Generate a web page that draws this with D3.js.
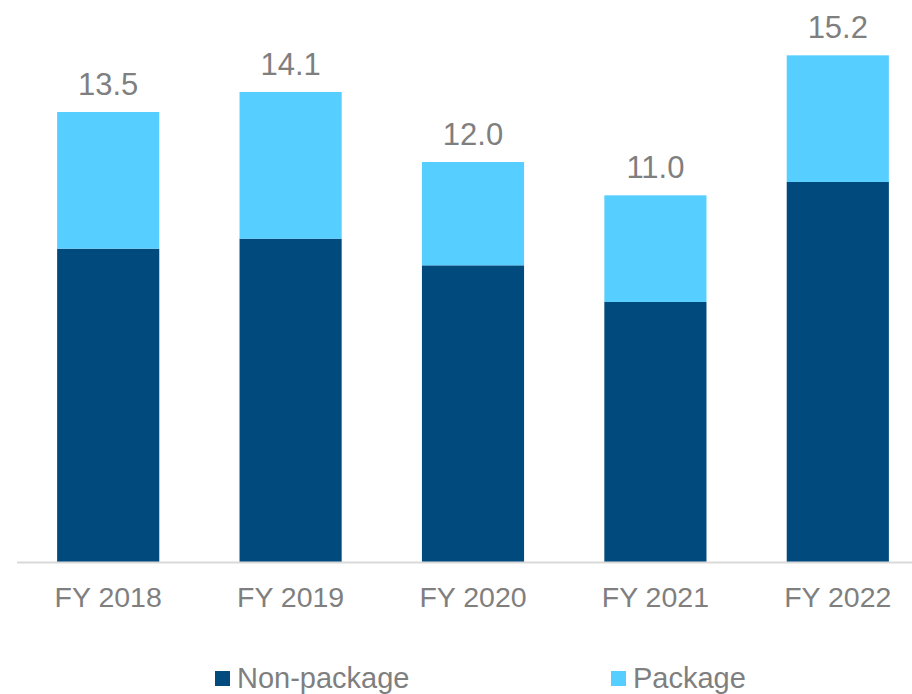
<!DOCTYPE html>
<html>
<head>
<meta charset="utf-8">
<script src="https://cdn.jsdelivr.net/npm/d3@7"></script>
<style>
  html, body { margin: 0; padding: 0; background: #fff; }
  svg { display: block; font-family: "Liberation Sans", Arial, sans-serif; }
</style>
</head>
<body>
<svg id="chart" width="912" height="694"></svg>
<script>
// Fiscal years and the two revenue components (stacked)
const categories = ["FY 2018", "FY 2019", "FY 2020", "FY 2021", "FY 2022"];
const nonPackage = [9.4, 9.7, 8.9, 7.8, 11.4];
const packageVals = [4.1, 4.4, 3.1, 3.2, 3.8];
const totals = [13.5, 14.1, 12.0, 11.0, 15.2];
const seriesNames = ["Non-package", "Package"];
const seriesColors = ["#004A7D", "#56CEFF"];

const svg = d3.select("#chart");
const W = 912;
const baseY = 562;
const textColor = "#7F7F7F";

const rows = categories.map((c, i) => ({
  cat: c,
  "Non-package": nonPackage[i],
  "Package": packageVals[i]
}));

const x = d3.scaleBand()
  .domain(categories)
  .range([17, 929])
  .paddingInner(0.44)
  .paddingOuter(0.22);

const y = d3.scaleLinear()
  .domain([0, 13.5])
  .range([baseY, 112]);

const stacked = d3.stack().keys(seriesNames)(rows);

svg.append("g")
  .selectAll("g")
  .data(stacked)
  .join("g")
  .attr("fill", (d, i) => seriesColors[i])
  .selectAll("rect")
  .data(d => d)
  .join("rect")
  .attr("x", d => x(d.data.cat))
  .attr("width", x.bandwidth())
  .attr("y", d => y(d[1]))
  .attr("height", d => y(d[0]) - y(d[1]));

// Baseline axis with category labels
const axis = svg.append("g")
  .attr("transform", `translate(0,${baseY})`)
  .call(d3.axisBottom(x).tickSize(0).tickPadding(0));
axis.select(".domain")
  .attr("d", `M17,0.5H${W}`)
  .attr("stroke", "#D9D9D9")
  .attr("stroke-width", 2);
axis.selectAll(".tick text")
  .attr("y", 45)
  .attr("dy", null)
  .attr("fill", textColor)
  .attr("font-size", 28.5)
  .attr("font-family", "Liberation Sans, Arial, sans-serif");

// Total labels above each stack
svg.append("g")
  .selectAll("text")
  .data(categories)
  .join("text")
  .attr("x", d => x(d) + x.bandwidth() / 2)
  .attr("y", (d, i) => y(totals[i]) - 17)
  .attr("text-anchor", "middle")
  .attr("fill", textColor)
  .attr("font-size", 31)
  .text((d, i) => totals[i].toFixed(1));

// Legend
const legendX = [215, 611];
const legend = svg.append("g")
  .selectAll("g")
  .data(seriesNames)
  .join("g")
  .attr("transform", (d, i) => `translate(${legendX[i]},671)`);
legend.append("rect")
  .attr("width", 15)
  .attr("height", 15)
  .attr("fill", (d, i) => seriesColors[i]);
legend.append("text")
  .attr("x", 22)
  .attr("y", 16.5)
  .attr("fill", textColor)
  .attr("font-size", 29)
  .text(d => d);
</script>
</body>
</html>
